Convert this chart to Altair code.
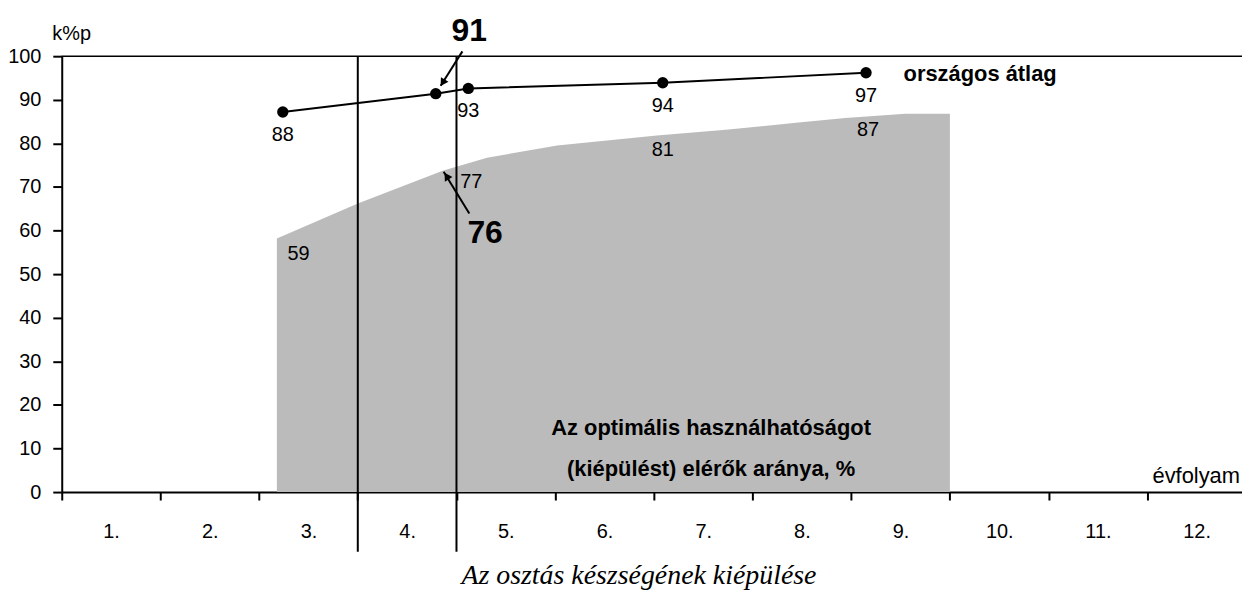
import altair as alt
import pandas as pd

# ---------------- data ----------------
grades = [1, 2, 3, 4, 5, 6, 7, 8, 9, 10, 11, 12]
y_ticks = [0, 10, 20, 30, 40, 50, 60, 70, 80, 90, 100]

# share reaching optimal usability (grey area)
area_grade = [2.68, 3.50, 4.36, 4.81, 5.52, 6.53, 7.23, 7.94, 8.44, 9.05, 9.50]
area_value = [58.2, 66.2, 73.7, 76.7, 79.5, 81.8, 83.1, 84.7, 85.8, 86.8, 86.8]
area_lab_grade = [2.90, 4.65, 6.59, 8.67]
area_lab_value = [54.6, 71.2, 78.5, 83.1]
area_lab_text = ["59", "77", "81", "87"]

# national average (line with dots)
line_grade = [2.74, 4.29, 4.62, 6.59, 8.65]
line_value = [87.2, 91.4, 92.6, 93.9, 96.2]
line_text = ["88", "", "93", "94", "97"]

# vertical separators
vline_grade = [3.5, 4.5]
vline_top = 100
vline_bottom = -13.7

# big annotations with arrows
big_text = ["91", "76"]
big_grade = [4.63, 4.79]
big_value = [105.7, 59.4]
arrow_g1 = [4.56, 4.63]
arrow_v1 = [101.1, 63.9]
arrow_g2 = [4.34, 4.37]
arrow_v2 = [93.2, 73.5]
head_g = [4.36, 4.40]
head_v = [93.9, 72.5]
head_angle = [212, 328]

# free texts
note_text = ["országos átlag"]
note_grade = [9.03]
note_value = [95.9]
cap_text = ["Az optimális használhatóságot", "(kiépülést) elérők aránya, %"]
cap_grade = [7.08, 7.08]
cap_value = [14.8, 5.3]
xlab_text = ["évfolyam"]
xlab_grade = [12.44]
xlab_value = [3.7]

TITLE = "Az osztás készségének kiépülése"

SANS = "Liberation Sans, Arial, sans-serif"
SERIF = "Liberation Serif, Times New Roman, serif"

# ---------------- scales / axes ----------------
xs = alt.Scale(domain=[0.5, 12.46], nice=False, zero=False)
ys = alt.Scale(domain=[0, 100], nice=False, zero=False)

x_axis = alt.Axis(
    values=grades, title=None, labelExpr="datum.value + '.'",
    tickOffset=-49.6, labelOffset=49.6, tickSize=8, tickWidth=2, tickColor="black",
    domainColor="black", domainWidth=2, labelFont=SANS, labelFontSize=20,
    labelColor="black", labelPadding=22, labelFlush=False, labelOverlap=False, grid=False,
)
y_axis = alt.Axis(
    values=y_ticks, title="k%p", titleAngle=0, titleX=-10, titleY=-23,
    titleAlign="left", titleBaseline="middle", titleFont=SANS, titleFontSize=20,
    titleFontWeight="normal", titleColor="black",
    tickSize=9, tickWidth=2, tickColor="black", domainColor="black", domainWidth=2,
    labelFont=SANS, labelFontSize=20, labelColor="black", labelPadding=12, grid=False,
)

X = alt.X("g:Q", scale=xs, axis=x_axis)
Y = alt.Y("v:Q", scale=ys, axis=y_axis)

area_df = pd.DataFrame({"g": area_grade, "v": area_value})
area_lab_df = pd.DataFrame({"g": area_lab_grade, "v": area_lab_value, "t": area_lab_text})
line_df = pd.DataFrame({"g": line_grade, "v": line_value, "t": line_text})
vline_df = pd.DataFrame({"g": vline_grade, "v": [vline_top] * 2, "v2": [vline_bottom] * 2})
top_df = pd.DataFrame({"v": [100]})
big_df = pd.DataFrame({"g": big_grade, "v": big_value, "t": big_text})
arrow_df = pd.DataFrame({"g": arrow_g1, "v": arrow_v1, "g2": arrow_g2, "v2": arrow_v2})
head_df = pd.DataFrame({"g": head_g, "v": head_v, "a": head_angle})
note_df = pd.DataFrame({"g": note_grade, "v": note_value, "t": note_text})
cap_df = pd.DataFrame({"g": cap_grade, "v": cap_value, "t": cap_text})
xlab_df = pd.DataFrame({"g": xlab_grade, "v": xlab_value, "t": xlab_text})

area = alt.Chart(area_df).mark_area(color="#bbbbbb", interpolate="linear", opacity=1).encode(x=X, y=Y)

top_rule = alt.Chart(top_df).mark_rule(color="black", strokeWidth=1.5).encode(y=Y)

vrules = alt.Chart(vline_df).mark_rule(color="black", strokeWidth=2).encode(x=X, y=Y, y2="v2:Q")

line = alt.Chart(line_df).mark_line(color="black", strokeWidth=2).encode(x=X, y=Y)
dots = alt.Chart(line_df).mark_circle(color="black", size=130, opacity=1).encode(x=X, y=Y)
line_labels = alt.Chart(line_df).mark_text(
    font=SANS, fontSize=20, color="black", dy=23, baseline="middle"
).encode(x=X, y=Y, text="t:N")

area_labels = alt.Chart(area_lab_df).mark_text(
    font=SANS, fontSize=20, color="black", baseline="middle"
).encode(x=X, y=Y, text="t:N")

big = alt.Chart(big_df).mark_text(
    font=SANS, fontSize=32, fontWeight="bold", color="black", baseline="middle"
).encode(x=X, y=Y, text="t:N")

arrows = alt.Chart(arrow_df).mark_rule(color="black", strokeWidth=2).encode(
    x=X, y=Y, x2="g2:Q", y2="v2:Q"
)
heads = alt.Chart(head_df).mark_point(
    shape="triangle-up", filled=True, color="black", size=80, opacity=1
).encode(x=X, y=Y, angle=alt.Angle("a:Q", scale=None))

note = alt.Chart(note_df).mark_text(
    font=SANS, fontSize=22, fontWeight="bold", color="black", align="left", baseline="middle"
).encode(x=X, y=Y, text="t:N")

cap = alt.Chart(cap_df).mark_text(
    font=SANS, fontSize=22, fontWeight="bold", color="black", align="center", baseline="middle"
).encode(x=X, y=Y, text="t:N")

xlab = alt.Chart(xlab_df).mark_text(
    font=SANS, fontSize=22, color="black", align="right", baseline="middle"
).encode(x=X, y=Y, text="t:N")

chart = alt.layer(
    area, top_rule, vrules, line, dots, line_labels, area_labels,
    big, arrows, heads, note, cap, xlab,
).properties(
    width=1186, height=438,
    autosize=alt.AutoSizeParams(type="none"),
    padding={"left": 54, "top": 47, "right": 0, "bottom": 98},
    background="white",
    title=alt.TitleParams(
        TITLE, orient="bottom", anchor="middle", font=SERIF,
        fontStyle="italic", fontWeight="normal", fontSize=28, color="black",
        baseline="alphabetic", offset=31, dx=-13,
    ),
).configure_view(stroke=None)

chart.save("out.html", embed_options={"renderer": "svg", "actions": False})
